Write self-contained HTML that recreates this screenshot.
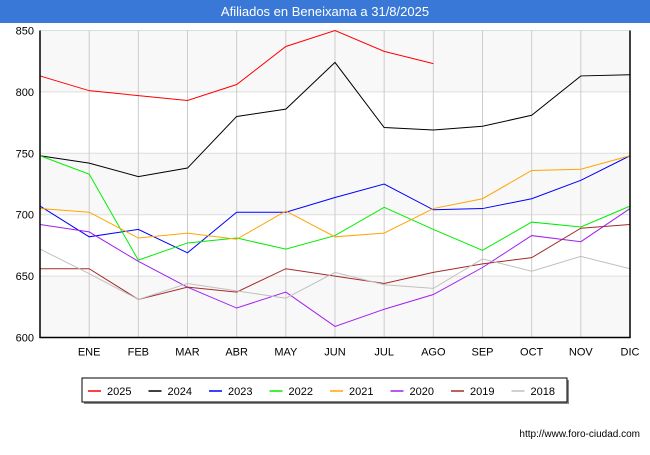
<!DOCTYPE html>
<html><head><meta charset="utf-8"><style>
body{margin:0;background:#fff;font-family:"Liberation Sans",sans-serif;}
#wrap{position:relative;width:650px;height:450px;}
</style></head><body>
<div id="wrap">
<svg id="svg" width="650" height="450" xmlns="http://www.w3.org/2000/svg">
<rect x="0" y="0" width="650" height="23" fill="#3a78d8"/>
<text x="325" y="16" text-anchor="middle" font-size="13" fill="#fff">Afiliados en Beneixama a 31/8/2025</text>
<g id="grid"></g>
<g id="lines"></g>
<g id="axes"></g>
<g id="legend"></g>
<text x="640" y="437" text-anchor="end" font-size="10" fill="#000">http://www.foro-ciudad.com</text>
</svg>
</div>
<script>
const months=["","ENE","FEB","MAR","ABR","MAY","JUN","JUL","AGO","SEP","OCT","NOV","DIC"];
const yTicks=[600,650,700,750,800,850];
const seriesNames=["2025","2024","2023","2022","2021","2020","2019","2018"];
const seriesColors=["#ff0000","#000000","#0000ff","#00ee00","#ffa500","#a020f0","#a52a2a","#c0c0c0"];
const s2025=[813,801,797,793,806,837,850,833,823];
const s2024=[748,742,731,738,780,786,824,771,769,772,781,813,814];
const s2023=[707,682,688,669,702,702,714,725,704,705,713,728,748];
const s2022=[748,733,663,677,681,672,683,706,688,671,694,690,707];
const s2021=[705,702,681,685,680,703,682,685,705,713,736,737,748];
const s2020=[692,686,662,641,624,637,609,623,635,657,683,678,705];
const s2019=[656,656,631,641,637,656,650,644,653,660,665,689,692];
const s2018=[672,652,631,644,638,632,653,643,640,664,654,666,656];
const allSeries=[s2025,s2024,s2023,s2022,s2021,s2020,s2019,s2018];
const NS="http://www.w3.org/2000/svg";
const L=40,R=630,T=30.5,B=337.5,vmin=600,vmax=850;
function xs(i){return L+i*(R-L)/12;}
function ys(v){return B-(v-vmin)*(B-T)/(vmax-vmin);}
function mk(tag,attrs,parent){const e=document.createElementNS(NS,tag);for(const k in attrs)e.setAttribute(k,attrs[k]);parent.appendChild(e);return e;}
const grid=document.getElementById('grid'),lines=document.getElementById('lines'),axes=document.getElementById('axes'),leg=document.getElementById('legend');
for(let i=0;i<yTicks.length-1;i+=2){
  const r=mk('rect',{x:L,y:ys(yTicks[i+1]),width:R-L,height:ys(yTicks[i])-ys(yTicks[i+1]),fill:'#f8f8f8'},grid);
  
  
}
yTicks.forEach(v=>{
  const l=mk('line',{x1:L,x2:R,y1:ys(v),y2:ys(v),stroke:'#ddd','stroke-width':1},grid);
  
  
  const t=mk('text',{x:L-6,y:ys(v)+4,'text-anchor':'end','font-size':11,fill:'#000'},axes);
  t.textContent=v;
  
  
});
months.forEach((m,i)=>{
  if(i>0){const l=mk('line',{x1:xs(i),x2:xs(i),y1:T,y2:B,stroke:'#ccc','stroke-width':1},grid);
  
  }
  if(m){const t=mk('text',{x:xs(i),y:B+18,'text-anchor':'middle','font-size':11,fill:'#000'},axes);
  t.textContent=m;
  
  }
});
allSeries.forEach((s,k)=>{
  const p=mk('polyline',{points:s.map((v,i)=>xs(i)+','+ys(v)).join(' '),fill:'none',stroke:seriesColors[k],'stroke-width':1},lines);
  
  
});
const ax=mk('path',{d:`M${L},${T} V${B} H${R} V${T}`,fill:'none',stroke:'#000','stroke-width':1.5},axes);


const lb=mk('rect',{x:84,y:380,width:485,height:24,fill:'#888'},leg);


const lr=mk('rect',{x:82,y:378,width:485,height:24,fill:'#fff',stroke:'#000','stroke-width':1},leg);


seriesNames.forEach((n,k)=>{
  const x0=88+k*60.5;
  const l=mk('line',{x1:x0,x2:x0+13,y1:391,y2:391,stroke:seriesColors[k],'stroke-width':1.5},leg);
  
  
  const t=mk('text',{x:x0+19,y:395,'font-size':11,fill:'#000'},leg);
  t.textContent=n;
  
  
});
</script>
</body></html>
